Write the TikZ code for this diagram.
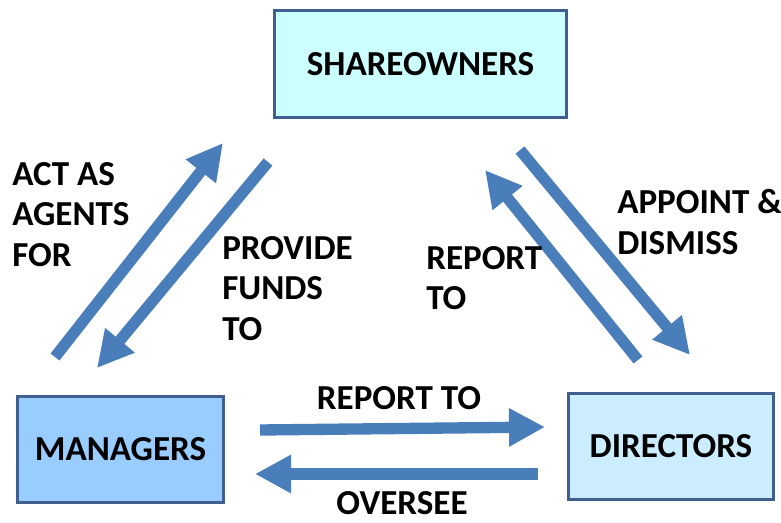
\documentclass[tikz,border=0pt]{standalone}
\usepackage{fontspec}
\setmainfont{Carlito}
\usepackage{xcolor}
\usetikzlibrary{arrows.meta,positioning}

\definecolor{flowblue}{HTML}{4A7EBB}
\definecolor{boxedge}{HTML}{3F5F8F}
\definecolor{sharefill}{HTML}{CCFFFF}
\definecolor{mgrfill}{HTML}{99CCFF}
\definecolor{dirfill}{HTML}{CCECFF}

\begin{document}
\begin{tikzpicture}[x=0.75pt, y=-0.75pt,
    box/.style={draw=boxedge, line width=2.2pt, inner sep=0pt,
      minimum height=80pt, font=\fontsize{26.3}{30}\selectfont\bfseries},
    flow/.style={draw=flowblue, line width=8.5pt,
      -{Triangle[length=27pt,width=27pt]}},
    lbl/.style={inner sep=0pt, align=left, anchor=north west,
      font=\fontsize{26.3}{30.5}\selectfont\bfseries}]
  \useasboundingbox (0,0) rectangle (781,523);

  % the three parties
  \node[box, fill=sharefill, minimum width=219pt] (share) at (420.5,64) {SHAREOWNERS};
  \node[box, fill=mgrfill, minimum width=155pt] (mgr) at (120.5,449.5) {MANAGERS};
  \node[box, fill=dirfill, minimum width=154pt] (dir) at (671,446.5) {DIRECTORS};

  % arrow ends
  \coordinate (agentA) at (55,357);   \coordinate (agentB) at (223,143);
  \coordinate (fundA) at (268,162);   \coordinate (fundB) at (97,368);
  \coordinate (repA) at (638,360);    \coordinate (repB) at (485,170);
  \coordinate (apptA) at (520,150);   \coordinate (apptB) at (690,355);
  \coordinate (botA) at (260,430);    \coordinate (botB) at (545,427);
  \coordinate (oversA) at (538,474);  \coordinate (oversB) at (255,474);

  \draw[flow] (agentA) -- (agentB);
  \draw[flow] (fundA) -- (fundB);
  \draw[flow] (repA) -- (repB);
  \draw[flow] (apptA) -- (apptB);
  \draw[flow] (botA) -- (botB);
  \draw[flow] (oversA) -- (oversB);

  % labels
  \node[lbl] (actlbl) at (12,162) {ACT AS\\AGENTS\\FOR};
  \node[lbl] (fundlbl) at (222,236) {PROVIDE\\FUNDS\\TO};
  \node[lbl] (replbl) at (426,246) {REPORT\\TO};
  \node[lbl] (apptlbl) at (617,189) {APPOINT \&\\DISMISS};
  \node[lbl, anchor=center] (botlbl) at (399,398) {REPORT TO};
  \node[lbl, anchor=center] (overlbl) at (402,503) {OVERSEE};
\end{tikzpicture}
\end{document}
